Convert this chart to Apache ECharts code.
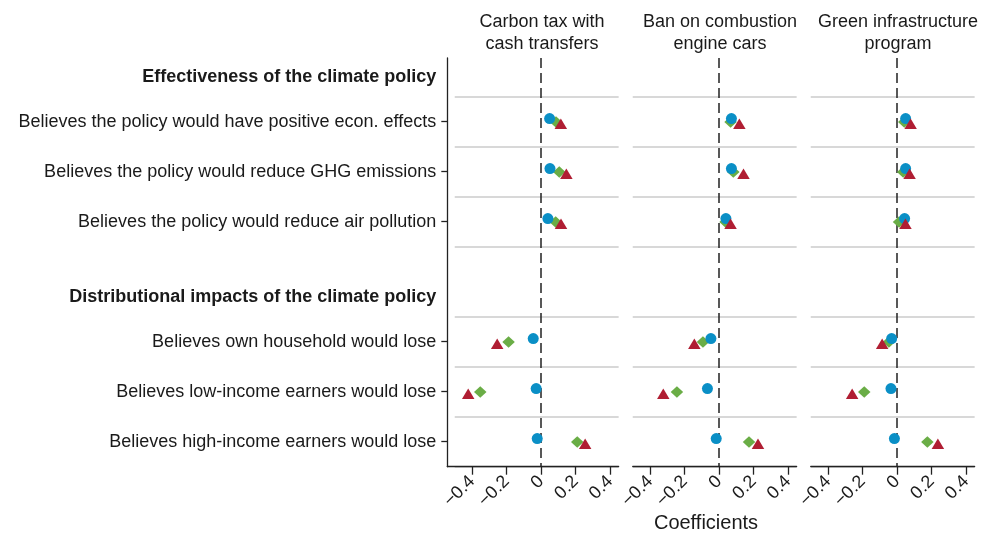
<!DOCTYPE html>
<html>
<head>
<meta charset="utf-8">
<script src="https://cdn.jsdelivr.net/npm/echarts@6/dist/echarts.min.js"></script>
<style>html,body{margin:0;padding:0;background:#fff}#c{width:987px;height:534px}</style>
</head>
<body>
<div id="c"></div>
<script>
// ---------- data ----------
const panelTitles = ['Carbon tax with\ncash transfers', 'Ban on combustion\nengine cars', 'Green infrastructure\nprogram'];
const groupHeadings = ['Effectiveness of the climate policy', 'Distributional impacts of the climate policy'];
const groupItems = [
  ['Believes the policy would have positive econ. effects', 'Believes the policy would reduce GHG emissions', 'Believes the policy would reduce air pollution'],
  ['Believes own household would lose', 'Believes low-income earners would lose', 'Believes high-income earners would lose']
];
const xTickValues = [-0.4, -0.2, 0, 0.2, 0.4];
const xAxisName = 'Coefficients';
// one row per panel; columns follow the six items in order
const blueCircle = [
  [0.050, 0.052, 0.040, -0.045, -0.028, -0.022],
  [0.072, 0.072, 0.040, -0.047, -0.067, -0.016],
  [0.050, 0.050, 0.044, -0.031, -0.035, -0.015]
];
const greenDiamond = [
  [0.087, 0.106, 0.085, -0.188, -0.352, 0.210],
  [0.067, 0.083, 0.038, -0.093, -0.244, 0.174],
  [0.042, 0.036, 0.012, -0.047, -0.190, 0.176]
];
const redTriangle = [
  [0.115, 0.147, 0.116, -0.254, -0.422, 0.256],
  [0.118, 0.142, 0.067, -0.143, -0.323, 0.226],
  [0.079, 0.073, 0.049, -0.086, -0.260, 0.237]
];

// ---------- layout ----------
const FONT = '"Liberation Sans", Arial, Helvetica, sans-serif';
const TXT = '#1a1a1a';
const SCALE = 172.5;              // px per unit on x
const ZERO_X = [541, 719, 897];   // pixel of x = 0 in each panel
const XMIN = -0.5, XMAX = 0.45;
const YAXIS_X = 447.3;
const TOP = 58, ROW = 50, FIRST_GRID = 96.7, BOTTOM = 466.7;
const GROUP_STEP = 4.4;           // rows + gap between groups
const YMIN = -(FIRST_GRID - TOP) / ROW, YMAX = (BOTTOM - FIRST_GRID) / ROW;

const itemPos = [], itemText = [], headPos = [], gridPos = [];
groupItems.forEach((g, gi) => {
  headPos.push(gi * GROUP_STEP - 0.4);
  g.forEach((t, i) => { itemPos.push(gi * GROUP_STEP + i + 0.5); itemText.push(t); });
  for (let k = 0; k <= g.length; k++) gridPos.push(gi * GROUP_STEP + k);
});
const labelMap = {};
itemPos.forEach((p, i) => labelMap[p.toFixed(3)] = itemText[i]);
headPos.forEach((p, i) => labelMap[p.toFixed(3)] = '{h|' + groupHeadings[i] + '}');

const fmtX = v => (Math.abs(v) < 1e-9 ? '0' : (v < 0 ? '\u2212' + String(Math.abs(v)) : String(v)));

const grids = [], xAxes = [], yAxes = [], series = [], graphics = [];
ZERO_X.forEach((z, p) => {
  let left = z + XMIN * SCALE;
  let width = (XMAX - XMIN) * SCALE;
  let min = XMIN;
  if (p === 0) { min = XMIN - (left - YAXIS_X) / SCALE; width += left - YAXIS_X; left = YAXIS_X; }
  grids.push({ left: left, top: TOP, width: width, height: BOTTOM - TOP });
  xAxes.push({
    type: 'value', gridIndex: p, min: min, max: XMAX, position: 'bottom',
    axisLine: { show: true, onZero: false, lineStyle: { color: '#222', width: 1.3 } },
    axisTick: { show: true, inside: false, length: 8, lineStyle: { color: '#222', width: 1.3 }, customValues: xTickValues },
    axisLabel: { customValues: xTickValues, rotate: 45, margin: 12, fontSize: 18, fontFamily: FONT, color: TXT, formatter: fmtX },
    splitLine: { show: false }
  });
  yAxes.push({
    type: 'value', gridIndex: p, inverse: true, min: YMIN, max: YMAX, show: p === 0, position: 'left',
    axisLine: { show: true, onZero: false, lineStyle: { color: '#222', width: 1.3 } },
    axisTick: { show: true, length: 6, lineStyle: { color: '#222', width: 1.3 }, customValues: itemPos },
    axisLabel: {
      customValues: itemPos.concat(headPos), margin: 11, fontSize: 18, fontFamily: FONT, color: TXT,
      formatter: v => labelMap[Number(v).toFixed(3)] || '',
      rich: { h: { fontWeight: 'bold', fontSize: 18, fontFamily: FONT, color: TXT } }
    },
    splitLine: { show: false }
  });
  const mk = (arr, dy) => arr[p].map((v, i) => [v, itemPos[i] + dy]);
  series.push({
    type: 'scatter', xAxisIndex: p, yAxisIndex: p, z: 3, silent: true,
    symbol: 'diamond', symbolSize: [12.5, 11.5], itemStyle: { color: '#6aad46', opacity: 1 },
    data: mk(greenDiamond, 0.005),
    markLine: {
      silent: true, symbol: 'none', z: 1, animation: false, label: { show: false },
      lineStyle: { color: '#222', width: 1.5, type: [10, 5] },
      data: [{ xAxis: 0 }]
    }
  });
  series.push({
    type: 'scatter', xAxisIndex: p, yAxisIndex: p, z: 3, silent: true,
    symbol: 'circle', symbolSize: 11, itemStyle: { color: '#0a8fc6', opacity: 1 },
    data: mk(blueCircle, -0.062),
    markLine: {
      silent: true, symbol: 'none', z: 0, animation: false, label: { show: false },
      lineStyle: { color: '#cbcbcb', width: 1.6, type: 'solid' },
      data: gridPos.map(y => [{ coord: [XMIN, y] }, { coord: [XMAX, y] }])
    }
  });
  series.push({
    type: 'scatter', xAxisIndex: p, yAxisIndex: p, z: 4, silent: true,
    symbol: 'triangle', symbolSize: [12.5, 10.5], itemStyle: { color: '#b01e33', opacity: 1 },
    data: mk(redTriangle, 0.04)
  });
  graphics.push({
    type: 'text', x: z + 1, y: 11,
    style: { text: panelTitles[p], font: '18px ' + FONT, fill: TXT, align: 'center', verticalAlign: 'top', lineHeight: 22 }
  });
});
graphics.push({
  type: 'text', x: 706, y: 523,
  style: { text: xAxisName, font: '20px ' + FONT, fill: TXT, align: 'center', verticalAlign: 'middle' }
});

const chart = echarts.init(document.getElementById('c'), null, { renderer: 'canvas' });
chart.setOption({
  animation: false,
  backgroundColor: '#fff',
  grid: grids, xAxis: xAxes, yAxis: yAxes, series: series, graphic: graphics
});
</script>
</body>
</html>
